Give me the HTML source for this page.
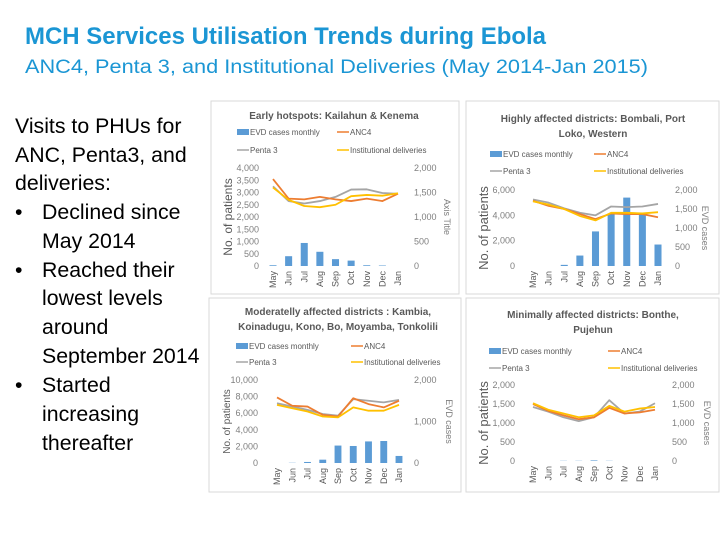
<!DOCTYPE html>
<html><head><meta charset="utf-8"><style>
body{margin:0;background:#fff;}
svg{display:block;font-family:"Liberation Sans",sans-serif;}
</style></head><body>
<svg id="slide" width="720" height="540" viewBox="0 0 720 540">
<text x="25" y="44" font-size="24" font-weight="bold" fill="#1b96d4" textLength="521" lengthAdjust="spacingAndGlyphs">MCH Services Utilisation Trends during Ebola</text>
<text x="25" y="73" font-size="19" fill="#1b96d4" textLength="623" lengthAdjust="spacingAndGlyphs">ANC4, Penta 3, and Institutional Deliveries (May 2014-Jan 2015)</text>
<g font-size="21.3" fill="#000">
<text x="15" y="133">Visits to PHUs for</text>
<text x="15" y="162">ANC, Penta3, and</text>
<text x="15" y="190">deliveries:</text>
<text x="15" y="219">•</text><text x="42" y="219">Declined since</text>
<text x="42" y="248">May 2014</text>
<text x="15" y="277">•</text><text x="42" y="277">Reached their</text>
<text x="42" y="305">lowest levels</text>
<text x="42" y="334">around</text>
<text x="42" y="363">September 2014</text>
<text x="15" y="392">•</text><text x="42" y="392">Started</text>
<text x="42" y="421">increasing</text>
<text x="42" y="450">thereafter</text>
</g>
<g id="charts"></g>
</svg>
<script>
const months = ["May","Jun","Jul","Aug","Sep","Oct","Nov","Dec","Jan"];
// Chart 1: Early hotspots
const c1Evd = [15,200,470,290,140,110,15,10,0];
const c1Anc4 = [3550,2750,2720,2820,2720,2650,2750,2650,2950];
const c1Penta = [3250,2650,2550,2650,2820,3120,3130,2980,2950];
const c1Inst = [3200,2700,2450,2400,2500,2850,2900,2870,2970];
const c1LeftTicks = [0,500,1000,1500,2000,2500,3000,3500,4000];
const c1RightTicks = [0,500,1000,1500,2000];
// Chart 2: Highly affected
const c2Evd = [0,0,30,275,910,1360,1800,1380,565];
const c2Anc4 = [5150,4750,4500,4100,3700,4150,4100,4100,3850];
const c2Penta = [5250,5000,4550,4200,4000,4700,4650,4700,4900];
const c2Inst = [5100,4850,4500,3950,3600,4200,4200,4150,4250];
const c2LeftTicks = [0,2000,4000,6000];
const c2RightTicks = [0,500,1000,1500,2000];
// Chart 3: Moderately affected
const c3Evd = [0,5,25,80,420,410,520,530,170];
const c3Anc4 = [7900,6900,6800,5800,5600,7800,7100,6700,7500];
const c3Penta = [7200,6800,6400,5900,5700,7700,7500,7300,7600];
const c3Inst = [7000,6600,6200,5600,5500,6700,6300,6300,7000];
const c3LeftTicks = [0,2000,4000,6000,8000,10000];
const c3RightTicks = [0,1000,2000];
// Chart 4: Minimally affected
const c4Evd = [0,0,5,5,15,5,0,0,0];
const c4Anc4 = [1500,1320,1200,1100,1150,1400,1250,1280,1350];
const c4Penta = [1420,1300,1150,1050,1150,1600,1250,1300,1520];
const c4Inst = [1520,1350,1250,1150,1200,1450,1300,1380,1420];
const c4LeftTicks = [0,500,1000,1500,2000];
const c4RightTicks = [0,500,1000,1500,2000];

const NS="http://www.w3.org/2000/svg";
const root=document.getElementById('charts');
function mk(tag,attrs,parent,txt){const e=document.createElementNS(NS,tag);for(const k in attrs)e.setAttribute(k,attrs[k]);if(txt!==undefined)e.textContent=txt;parent.appendChild(e);return e;}
const COL={evd:"#5b9bd5",anc:"#ed7d31",penta:"#a5a5a5",inst:"#ffc000"};

function drawChart(c){
  const g=mk('g',{},root);
  
  
  const fr=mk('rect',{x:c.box[0],y:c.box[1],width:c.box[2],height:c.box[3],fill:"#fff",stroke:"#d9d9d9","stroke-width":1},g);
  
  
  c.title.forEach((t,i)=>{
    const e=mk('text',{x:c.tx,y:c.ty+i*15,"font-size":10,"font-weight":"bold",fill:"#595959","text-anchor":"middle"},g,t);
    
    
  });
  const lMax=c.lTicks[c.lTicks.length-1], rMax=c.rTicks[c.rTicks.length-1];
  const yL=v=>c.y0-(v/lMax)*(c.y0-c.y1);
  const yR=v=>c.y0-(v/rMax)*(c.y0-c.y1);
  const step=(c.xJan-c.xMay)/(months.length-1);
  const x=i=>c.xMay+i*step;
  const lg=[["EVD cases monthly","evd",c.lx1,c.ly1],["ANC4","anc",c.lx2,c.ly1],["Penta 3","penta",c.lx1,c.ly2],["Institutional deliveries","inst",c.lx2,c.ly2]];
  lg.forEach(([t,k,lx,ly])=>{
    const le=mk('g',{},g);
    
    
    if(k==="evd") mk('rect',{x:lx,y:ly-4,width:12,height:6,fill:COL.evd},le);
    else mk('line',{x1:lx,x2:lx+12,y1:ly-1,y2:ly-1,stroke:COL[k],"stroke-width":1.5},le);
    mk('text',{x:lx+13,y:ly+2,"font-size":8,fill:"#595959"},le,t);
  });
  c.lTicks.forEach(v=>{
    const e=mk('text',{x:c.lLab,y:yL(v)+3,"font-size":9,fill:"#7f7f7f","text-anchor":"end"},g,v.toLocaleString('en-US'));
    
    
  });
  c.rTicks.forEach(v=>{
    const e=mk('text',{x:c.rLab,y:yR(v)+3,"font-size":9,fill:"#7f7f7f"},g,v.toLocaleString('en-US'));
    
    
  });
  months.forEach((m,i)=>{
    const e=mk('text',{x:0,y:0,"font-size":9,fill:"#595959","text-anchor":"end",transform:`translate(${x(i)+3},${c.y0+5}) rotate(-90)`},g,m);
    
    
  });
  const yt=mk('text',{x:0,y:0,"font-size":c.ytSize,fill:"#595959","text-anchor":"middle",transform:`translate(${c.ytx},${(c.y0+c.y1)/2}) rotate(-90)`},g,"No. of patients");
  
  
  const rt=mk('text',{x:0,y:0,"font-size":9,fill:"#7f7f7f","text-anchor":"middle",transform:`translate(${c.rtx},${(c.y0+c.y1)/2}) rotate(90)`},g,c.rTitle);
  
  
  const bw=step*0.45;
  c.evd.forEach((v,i)=>{
    const b=mk('rect',{x:x(i)-bw/2,y:yR(v),width:bw,height:c.y0-yR(v),fill:COL.evd},g);
    
    
  });
  [["penta",c.penta],["anc",c.anc],["inst",c.inst]].forEach(([k,arr])=>{
    const p=mk('polyline',{points:arr.map((v,i)=>x(i)+","+yL(v)).join(" "),fill:"none",stroke:COL[k],"stroke-width":1.8,"stroke-linejoin":"round"},g);
    
    
  });
}

drawChart({name:"chart-early-hotspots",box:[211,101,248,193],title:["Early hotspots: Kailahun & Kenema"],tx:334,ty:119,
  lx1:237,lx2:337,ly1:133,ly2:151,y0:266,y1:168,xMay:273,xJan:398,lLab:259,rLab:414,ytx:232,ytSize:12,rtx:444,rTitle:"Axis Title",
  lTicks:c1LeftTicks,rTicks:c1RightTicks,evd:c1Evd,anc:c1Anc4,penta:c1Penta,inst:c1Inst});
drawChart({name:"chart-highly-affected",box:[466,101,253,193],title:["Highly affected districts: Bombali, Port","Loko, Western"],tx:593,ty:122,
  lx1:490,lx2:594,ly1:155,ly2:172,y0:266,y1:190,xMay:533,xJan:658,lLab:515,rLab:675,ytx:488,ytSize:13,rtx:702,rTitle:"EVD cases",
  lTicks:c2LeftTicks,rTicks:c2RightTicks,evd:c2Evd,anc:c2Anc4,penta:c2Penta,inst:c2Inst});
drawChart({name:"chart-moderately-affected",box:[209,298,252,194],title:["Moderatelly affected districts : Kambia,","Koinadugu, Kono, Bo, Moyamba, Tonkolili"],tx:338,ty:315,
  lx1:236,lx2:351,ly1:347,ly2:363,y0:463,y1:380,xMay:277,xJan:399,lLab:258,rLab:414,ytx:230,ytSize:10,rtx:446,rTitle:"EVD cases",
  lTicks:c3LeftTicks,rTicks:c3RightTicks,evd:c3Evd,anc:c3Anc4,penta:c3Penta,inst:c3Inst});
drawChart({name:"chart-minimally-affected",box:[466,298,253,194],title:["Minimally affected districts: Bonthe,","Pujehun"],tx:593,ty:318,
  lx1:489,lx2:608,ly1:352,ly2:369,y0:461,y1:385,xMay:533,xJan:655,lLab:515,rLab:672,ytx:488,ytSize:13,rtx:704,rTitle:"EVD cases",
  lTicks:c4LeftTicks,rTicks:c4RightTicks,evd:c4Evd,anc:c4Anc4,penta:c4Penta,inst:c4Inst});
</script>
</body></html>
